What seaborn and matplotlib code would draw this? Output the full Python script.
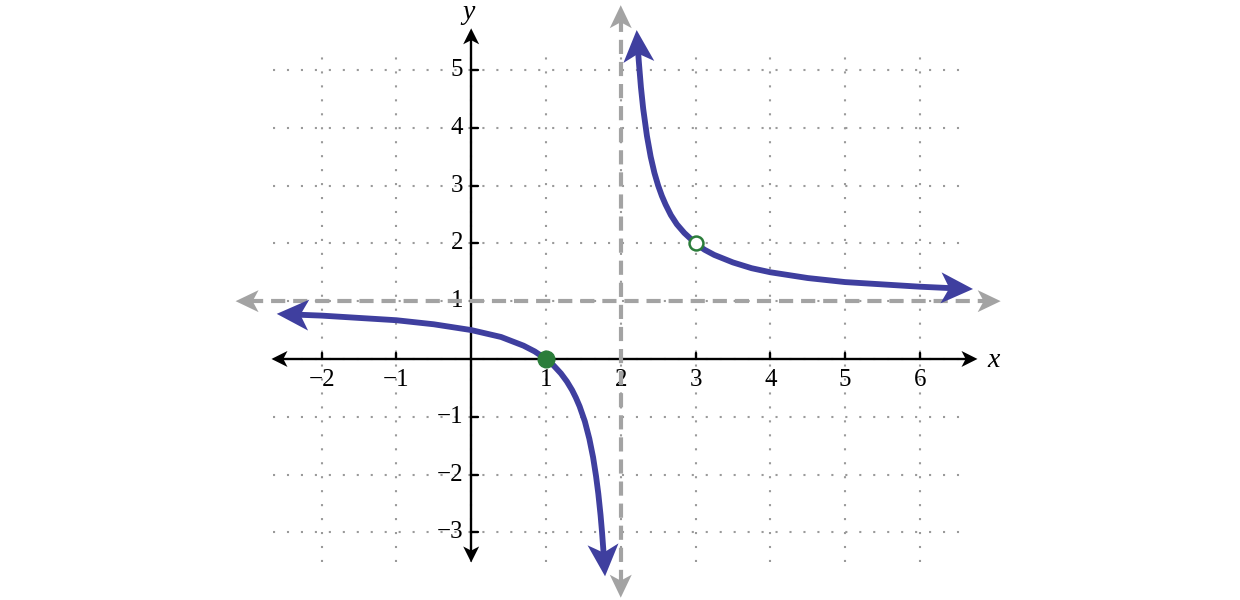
import matplotlib
matplotlib.use("Agg")
import numpy as np
import matplotlib.pyplot as plt
from matplotlib.patches import Polygon
from matplotlib.transforms import IdentityTransform
import seaborn as sns

# tick values / labels
x_ticks = [-2, -1, 1, 2, 3, 4, 5, 6]
x_tick_labels = ["\u22122", "\u22121", "1", "2", "3", "4", "5", "6"]
y_ticks = [-3, -2, -1, 1, 2, 3, 4, 5]
y_tick_labels = ["\u22123", "\u22122", "\u22121", "1", "2", "3", "4", "5"]

# curve, left branch (first/last points are the arrow tips)
left_x = [-2.6, -2.0, -1.5, -1.0, -0.5, 0.0, 0.4, 0.7, 0.85, 1.0, 1.1, 1.2, 1.28,
          1.35, 1.40, 1.45, 1.52, 1.58, 1.63, 1.67, 1.70, 1.73, 1.75, 1.77, 1.79]
left_y = [0.78, 0.75, 0.71, 0.67, 0.60, 0.50, 0.38, 0.23, 0.13, 0.0, -0.11, -0.25, -0.39,
          -0.54, -0.67, -0.82, -1.08, -1.38, -1.70, -2.03, -2.33, -2.70, -3.00, -3.35, -3.76]

# right branch
right_x = [2.213, 2.24, 2.27, 2.30, 2.35, 2.40, 2.45, 2.50, 2.55, 2.60, 2.67, 2.75,
           2.85, 3.0, 3.12, 3.25, 3.5, 3.75, 4.0, 4.5, 5.0, 5.5, 6.0, 6.5, 6.71]
right_y = [5.69, 5.17, 4.70, 4.33, 3.86, 3.50, 3.22, 3.00, 2.82, 2.67, 2.49, 2.33,
           2.18, 2.00, 1.89, 1.80, 1.67, 1.57, 1.50, 1.40, 1.33, 1.29, 1.25, 1.22, 1.21]

# asymptotes
asym_x = 2
asym_y = 1

# points
zero_pt = (1, 0)
hole_pt = (3, 2)

CURVE = "#3f3f9f"
GRAY = "#a3a3a3"
GREEN = "#2b7d3a"


def head(ax, prev, tip, color, length, width, z):
    """stealth arrow head in pixels, returns a data point inside the head for the shaft end"""
    p0 = ax.transData.transform(prev)
    p1 = ax.transData.transform(tip)
    u = (p1 - p0) / np.hypot(*(p1 - p0))
    n = np.array([-u[1], u[0]])
    verts = [p1,
             p1 - u * length + n * width / 2,
             p1 - u * length * 0.74,
             p1 - u * length - n * width / 2]
    ax.add_patch(Polygon(verts, closed=True, transform=IdentityTransform(),
                         facecolor=color, edgecolor="none", zorder=z))
    return ax.transData.inverted().transform(p1 - u * length * 0.6)


def main():
    sns.set_theme(style="white")
    plt.rcParams["font.family"] = ["Liberation Serif", "DejaVu Serif"]

    fig = plt.figure(figsize=(12.4, 6), dpi=100)
    ax = fig.add_axes([0, 0, 1, 1])
    ax.set_xlim(-6.30, 10.28)
    ax.set_ylim(-4.17, 6.21)
    ax.axis("off")

    ##### grid #####
    dots = (0, (1, 5.7))
    for gx in range(-2, 7):
        ax.plot([gx, gx], [-3.51, 5.35], color="#9a9a9a", lw=1.5, ls=dots, zorder=1)
    for gy in range(-3, 6):
        ax.plot([-2.65, 6.63], [gy, gy], color="#9a9a9a", lw=1.5, ls=dots, zorder=1)

    ##### axes #####
    a = head(ax, (0, 0), (-2.67, 0), "black", 16, 16, 3)
    b = head(ax, (0, 0), (6.77, 0), "black", 16, 16, 3)
    ax.plot([a[0], b[0]], [0, 0], color="black", lw=1.7, zorder=3)
    a = head(ax, (0, 0), (0, 5.72), "black", 16, 16, 3)
    b = head(ax, (0, 0), (0, -3.52), "black", 16, 16, 3)
    ax.plot([0, 0], [b[1], a[1]], color="black", lw=1.7, zorder=3)
    for t in x_ticks:
        ax.plot([t, t], [0, 0.11], color="black", lw=1.7, zorder=3)
    for t in y_ticks:
        ax.plot([0, 0.09], [t, t], color="black", lw=1.7, zorder=3)
    for t, lab in zip(x_ticks, x_tick_labels):
        ax.text(t, -0.36, lab, ha="center", va="center", fontsize=18, color="black", zorder=2)
    for t, lab in zip(y_ticks, y_tick_labels):
        ax.text(-0.11, t, lab, ha="right", va="center", fontsize=18, color="black", zorder=2)
    ax.text(6.98, -0.03, "x", ha="center", va="center", fontsize=20, style="italic", color="black")
    ax.text(-0.04, 6.0, "y", ha="center", va="center", fontsize=20, style="italic", color="black")

    ##### asymptotes #####
    dash = (0, (3.4, 1.9))
    a = head(ax, (asym_x, 0), (asym_x, 6.12), GRAY, 23, 22, 4)
    b = head(ax, (asym_x, 0), (asym_x, -4.13), GRAY, 23, 22, 4)
    ax.plot([asym_x, asym_x], [b[1], a[1]], color=GRAY, lw=3, ls=dash, zorder=4)
    a = head(ax, (0, asym_y), (-3.15, asym_y), GRAY, 23, 22, 4)
    b = head(ax, (0, asym_y), (7.08, asym_y), GRAY, 23, 22, 4)
    ax.plot([a[0], b[0]], [asym_y, asym_y], color=GRAY, lw=3, ls=dash, zorder=4)

    ##### curve #####
    s0 = head(ax, (left_x[1], left_y[1]), (left_x[0], left_y[0]), CURVE, 32, 31, 6)
    s1 = head(ax, (left_x[-2], left_y[-2]), (left_x[-1], left_y[-1]), CURVE, 32, 31, 6)
    sns.lineplot(x=[s0[0]] + left_x[1:-1] + [s1[0]], y=[s0[1]] + left_y[1:-1] + [s1[1]],
                 sort=False, estimator=None, color=CURVE, lw=4.2, ax=ax, zorder=5)
    s0 = head(ax, (right_x[1], right_y[1]), (right_x[0], right_y[0]), CURVE, 32, 31, 6)
    s1 = head(ax, (right_x[-2], right_y[-2]), (right_x[-1], right_y[-1]), CURVE, 32, 31, 6)
    sns.lineplot(x=[s0[0]] + right_x[1:-1] + [s1[0]], y=[s0[1]] + right_y[1:-1] + [s1[1]],
                 sort=False, estimator=None, color=CURVE, lw=4.2, ax=ax, zorder=5)

    ##### points #####
    ax.plot(*zero_pt, "o", ms=12, color=GREEN, zorder=7)
    ax.plot(*hole_pt, "o", ms=10, mfc="white", mec=GREEN, mew=1.8, zorder=7)

    fig.savefig("out.png", dpi=100)


if __name__ == "__main__":
    main()
